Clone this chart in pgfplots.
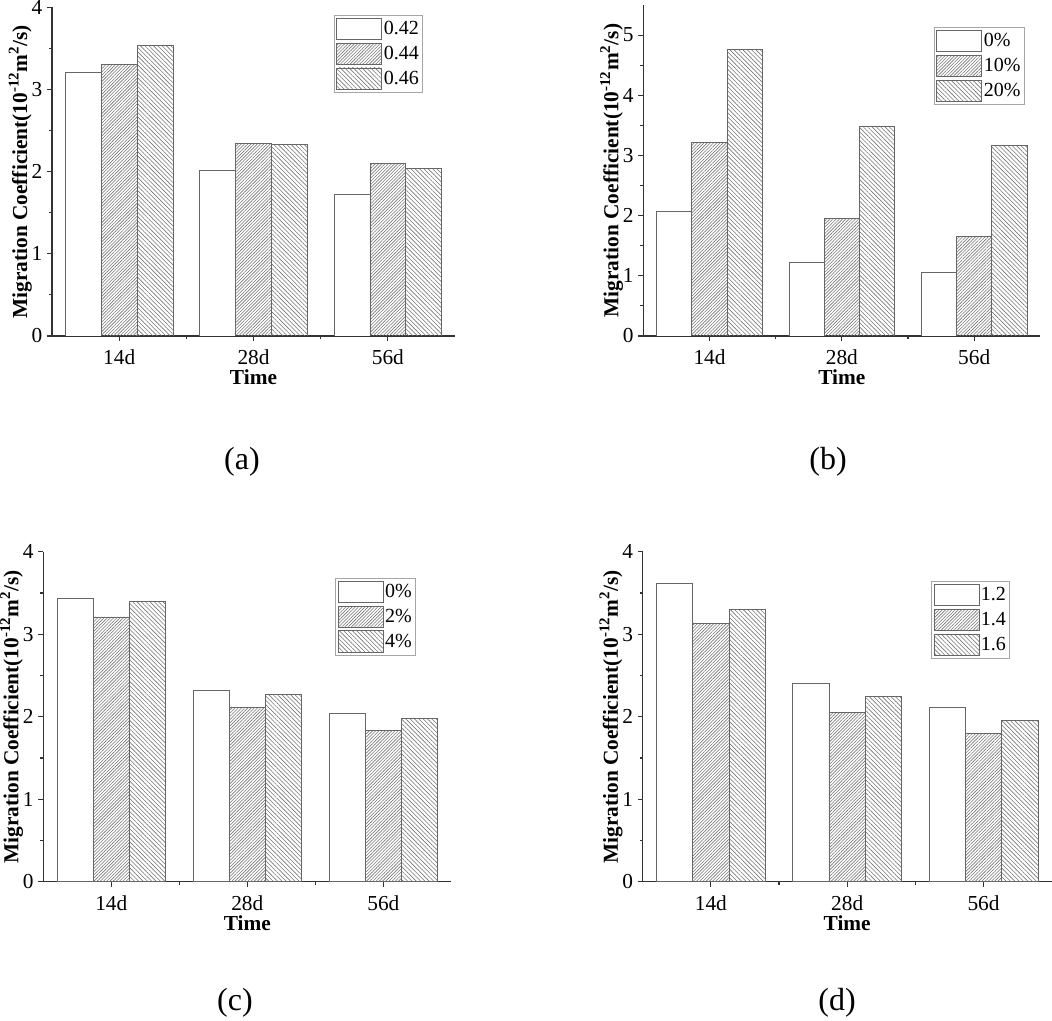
\documentclass[border=0pt]{standalone}
\usepackage{fontspec}
\setmainfont{Liberation Serif}
\usepackage{pgfplots}
\usepackage{pgfplotstable}
\pgfplotsset{compat=1.18}
\usetikzlibrary{patterns.meta}

\definecolor{edge}{HTML}{666666}
\definecolor{axisc}{HTML}{333333}
\definecolor{hatch}{HTML}{777777}

\pgfplotsset{
  s1/.style={draw=edge, line width=0.6pt, fill=white, bar shift=-0.2667},
  s2/.style={draw=edge, line width=0.6pt, pattern={Lines[angle=45,distance=1.7pt,line width=0.45pt]}, pattern color=hatch, bar shift=0},
  s3/.style={draw=edge, line width=0.6pt, pattern={Lines[angle=-45,distance=2.3pt,line width=0.45pt]}, pattern color=hatch, bar shift=0.2667},
  mybar/.style={
    scale only axis,
    anchor=south west,
    axis lines*=left,
    axis line style={draw=axisc, line width=0.8pt},
    ybar, bar width=0.2667,
    legend image code/.code={\draw[##1] (0pt,-7.9pt) rectangle (33.75pt,7.9pt);},
    enlargelimits=false,
    xmin=-0.5, xmax=2.5, ymin=0,
    xtick={0,1,2}, xticklabels={14d,28d,56d},
    minor xtick={0.5,1.5},
    tick align=outside,
    major tick length=3.75pt, minor tick length=2.25pt,
    tick style={draw=axisc, line width=0.8pt},
    /pgf/number format/assume math mode=true,
    ticklabel style={font=\fontsize{16}{18}\selectfont},
    xticklabel style={yshift=-3pt},
    xlabel={\textbf{Time}},
    ylabel={\textbf{Migration Coefficient(10\textsuperscript{-12}m\textsuperscript{2}/s)}},
    label style={font=\fontsize{16}{18}\selectfont},
    xlabel style={yshift=3pt},
    ylabel shift=-7pt,
    legend cell align=left,
    legend style={draw=gray!70, line width=0.6pt, font=\fontsize{15}{17}\selectfont,
      inner xsep=1.5pt, inner ysep=2pt, row sep=2.2pt, anchor=north east,
      nodes={inner sep=1.2pt}},
  }
}

\pgfplotstableread{
x a b c
0 3.21 3.30 3.54
1 2.02 2.34 2.33
2 1.72 2.10 2.04
}\dataA
\pgfplotstableread{
x a b c
0 2.07 3.22 4.76
1 1.22 1.95 3.49
2 1.05 1.65 3.16
}\dataB
\pgfplotstableread{
x a b c
0 3.43 3.21 3.40
1 2.315 2.11 2.275
2 2.04 1.835 1.98
}\dataC
\pgfplotstableread{
x a b c
0 3.62 3.13 3.30
1 2.41 2.05 2.245
2 2.11 1.80 1.95
}\dataD

\begin{document}
\begin{tikzpicture}
% (a)
\begin{axis}[mybar, at={(39pt,513pt)}, width=302.25pt, height=246.5pt,
  ymax=4, ytick={0,1,2,3,4}, minor ytick={0.5,1.5,2.5,3.5},
  legend style={at={(0.92,0.977)}}]
  \addplot[s1] table[x=x,y=a]{\dataA};
  \addplot[s2] table[x=x,y=b]{\dataA};
  \addplot[s3] table[x=x,y=c]{\dataA};
  \legend{0.42,0.44,0.46}
\end{axis}
% (b)
\begin{axis}[mybar, at={(482.5pt,513pt)}, width=297.75pt, height=248.25pt,
  ymax=5.5, ytick={0,1,2,3,4,5}, minor ytick={0.5,1.5,2.5,3.5,4.5},
  legend style={at={(0.96,0.933)}}]
  \addplot[s1] table[x=x,y=a]{\dataB};
  \addplot[s2] table[x=x,y=b]{\dataB};
  \addplot[s3] table[x=x,y=c]{\dataB};
  \legend{0\%,10\%,20\%}
\end{axis}
% (c)
\begin{axis}[mybar, at={(32.5pt,103.7pt)}, width=306pt, height=247.5pt,
  ymax=4, ytick={0,1,2,3,4}, minor ytick={0.5,1.5,2.5,3.5},
  legend style={at={(0.913,0.921)}}]
  \addplot[s1] table[x=x,y=a]{\dataC};
  \addplot[s2] table[x=x,y=b]{\dataC};
  \addplot[s3] table[x=x,y=c]{\dataC};
  \legend{0\%,2\%,4\%}
\end{axis}
% (d)
\begin{axis}[mybar, at={(482pt,103.7pt)}, width=306.75pt, height=247.5pt,
  ymax=4, ytick={0,1,2,3,4}, minor ytick={0.5,1.5,2.5,3.5},
  legend style={at={(0.898,0.911)}}]
  \addplot[s1] table[x=x,y=a]{\dataD};
  \addplot[s2] table[x=x,y=b]{\dataD};
  \addplot[s3] table[x=x,y=c]{\dataD};
  \legend{1.2,1.4,1.6}
\end{axis}
\node[font=\fontsize{24}{26}\selectfont] at (181.5pt,418.5pt) {(a)};
\node[font=\fontsize{24}{26}\selectfont] at (621pt,418.5pt) {(b)};
\node[font=\fontsize{24}{26}\selectfont] at (176.25pt,12.75pt) {(c)};
\node[font=\fontsize{24}{26}\selectfont] at (627.75pt,12.75pt) {(d)};
\pgfresetboundingbox
\path (0,0) rectangle (789pt,765pt);
\end{tikzpicture}
\end{document}
